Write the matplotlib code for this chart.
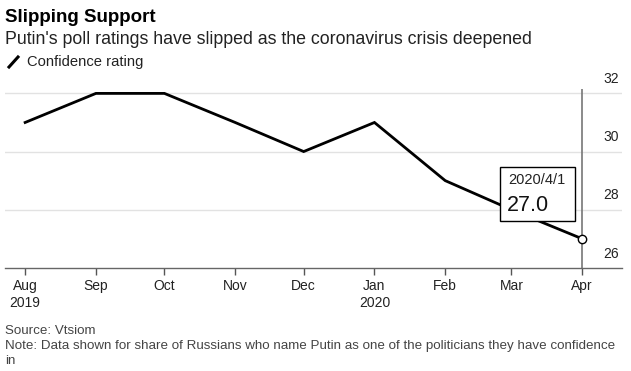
import numpy as np
import matplotlib.pyplot as plt
from datetime import datetime, timedelta

plt.rcParams['font.family'] = ['Liberation Sans', 'DejaVu Sans']

# --- Data ---
months = ['2019-08-01', '2019-09-01', '2019-10-01', '2019-11-01', '2019-12-01',
          '2020-01-01', '2020-02-01', '2020-03-01', '2020-04-01']
rating = [31, 32, 32, 31, 30, 31, 29, 28, 27]
month_labels = ['Aug\n2019', 'Sep', 'Oct', 'Nov', 'Dec', 'Jan\n2020', 'Feb', 'Mar', 'Apr']
y_ticks = [26, 28, 30, 32]

dates = [datetime.strptime(m, '%Y-%m-%d') for m in months]

fig = plt.figure(figsize=(6.31, 3.71), dpi=100)
ax = fig.add_axes([0.008, 0.278, 0.978, 0.482])

ax.plot(dates, rating, color='black', linewidth=2, solid_joinstyle='miter', zorder=3)
ax.plot(dates[-1], rating[-1], marker='o', markersize=6, markerfacecolor='white',
        markeredgecolor='black', markeredgewidth=1, zorder=5)

# cursor line at last point
ax.axvline(dates[-1], color='#777777', linewidth=1.2, zorder=2)

ax.set_xlim(dates[0] - timedelta(days=8.8), dates[-1] + timedelta(days=17.5))
ax.set_ylim(26, 32.15)

# gridlines + right-side labels sitting above them
for v in y_ticks:
    if v > y_ticks[0]:
        ax.axhline(v, color='#e2e2e2', linewidth=1, zorder=1)
    ax.text(0.995, v + 0.25, str(v), transform=ax.get_yaxis_transform(),
            ha='right', va='bottom', fontsize=10, color='#222222')

ax.set_yticks([])
ax.set_xticks(dates)
ax.set_xticklabels(month_labels, fontsize=10, color='#222222')
ax.tick_params(axis='x', length=5, width=1, color='#555555', pad=3)
for lbl in ax.get_xticklabels():
    lbl.set_linespacing(1.25)

for s in ['top', 'left', 'right']:
    ax.spines[s].set_visible(False)
ax.spines['bottom'].set_color('#666666')
ax.spines['bottom'].set_linewidth(1)

# tooltip box
fig.patches.append(plt.Rectangle((500 / 631, 1 - 221 / 371), 75 / 631, 54 / 371,
                                 transform=fig.transFigure, facecolor='white',
                                 edgecolor='black', linewidth=1, zorder=10))
fig.text(508 / 631, 1 - 184 / 371, '2020/4/1', fontsize=10.5, color='#222222', zorder=11)
fig.text(507 / 631, 1 - 211 / 371, f'{rating[-1]:.1f}', fontsize=15.5, color='#111111', zorder=11)

# titles
fig.text(5 / 631, 1 - 22 / 371, 'Slipping Support', fontsize=13.5, fontweight='bold', color='black')
fig.text(5 / 631, 1 - 44 / 371, "Putin's poll ratings have slipped as the coronavirus crisis deepened",
         fontsize=12.8, color='#222222')
fig.lines.append(plt.Line2D([9 / 631, 18 / 631], [1 - 67 / 371, 1 - 57 / 371],
                            transform=fig.transFigure, color='black', linewidth=2.2))
fig.text(27 / 631, 1 - 66 / 371, 'Confidence rating', fontsize=10.6, color='#222222')

# footer
fig.text(5 / 631, 1 - 334 / 371, 'Source: Vtsiom', fontsize=9.6, color='#444444')
fig.text(5 / 631, 1 - 349 / 371,
         'Note: Data shown for share of Russians who name Putin as one of the politicians they have confidence',
         fontsize=9.6, color='#444444')
fig.text(5 / 631, 1 - 364 / 371, 'in', fontsize=9.6, color='#444444')

fig.savefig('out.png', dpi=100)
